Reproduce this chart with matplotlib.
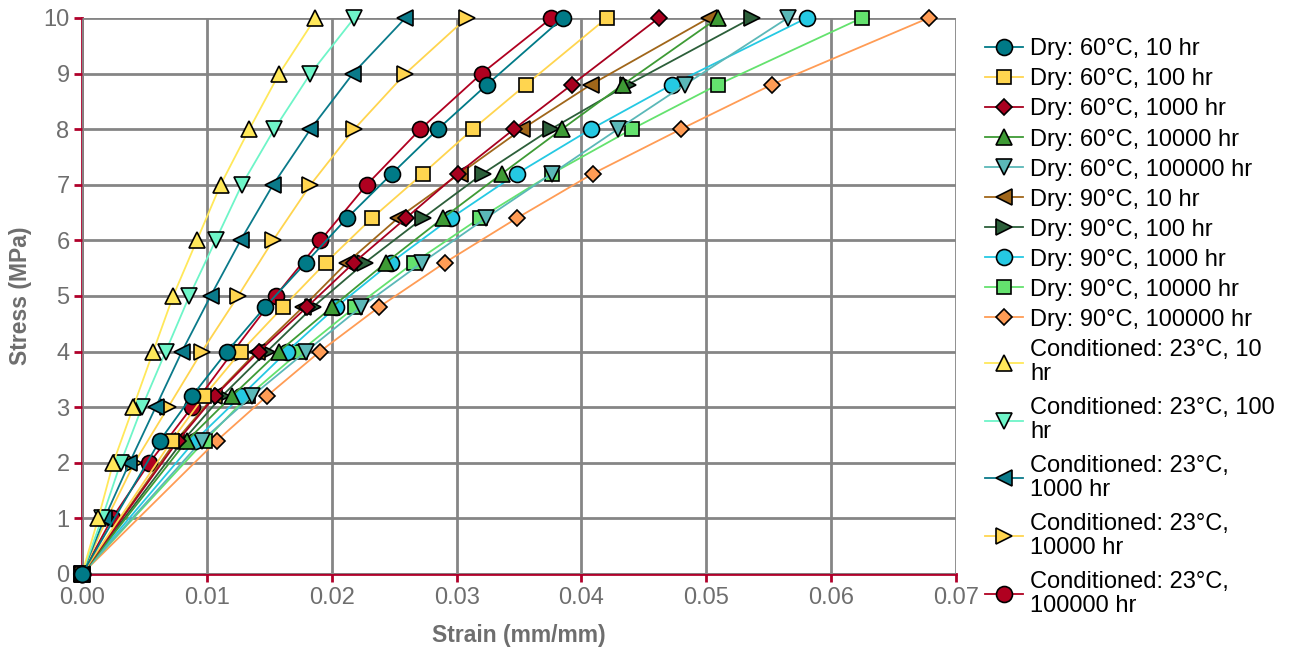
import numpy as np
import matplotlib
matplotlib.use("Agg")
from matplotlib import pyplot as plt

# stress levels (MPa)
dry_stress = [0, 2.4, 3.2, 4.0, 4.8, 5.6, 6.4, 7.2, 8.0, 8.8, 10.0]
cond_stress = [0, 1, 2, 3, 4, 5, 6, 7, 8, 9, 10]

# strain (mm/mm)
dry60_10 = [0, 0.00624, 0.00881, 0.01161, 0.01465, 0.01793, 0.02122, 0.02482, 0.0285, 0.03243, 0.03851]
dry60_100 = [0, 0.0072, 0.00977, 0.01273, 0.01609, 0.01953, 0.02322, 0.0273, 0.0313, 0.03555, 0.04203]
dry60_1000 = [0, 0.00769, 0.01065, 0.01417, 0.01801, 0.02178, 0.02594, 0.0301, 0.03459, 0.03923, 0.04619]
dry60_10000 = [0, 0.00841, 0.01201, 0.01577, 0.02002, 0.02434, 0.0289, 0.03363, 0.03843, 0.04331, 0.05092]
dry60_100000 = [0, 0.00961, 0.01361, 0.01793, 0.02234, 0.02722, 0.03234, 0.03763, 0.04291, 0.04828, 0.05652]
dry90_10 = [0, 0.00753, 0.01057, 0.01401, 0.01769, 0.02122, 0.0253, 0.03026, 0.03523, 0.04075, 0.0502]
dry90_100 = [0, 0.00809, 0.01121, 0.01481, 0.01849, 0.02266, 0.0273, 0.0321, 0.03755, 0.04371, 0.05364]
dry90_1000 = [0, 0.00905, 0.01273, 0.01641, 0.02034, 0.02474, 0.02954, 0.03483, 0.04075, 0.04724, 0.05804]
dry90_10000 = [0, 0.00985, 0.01329, 0.01745, 0.02186, 0.02658, 0.03186, 0.03763, 0.04403, 0.05092, 0.06245]
dry90_100000 = [0, 0.01081, 0.01481, 0.01905, 0.02378, 0.02906, 0.03483, 0.04091, 0.04796, 0.05524, 0.06781]
cond23_10 = [0, 0.0013, 0.0025, 0.0041, 0.0057, 0.0073, 0.0092, 0.0111, 0.0134, 0.0158, 0.0187]
cond23_100 = [0, 0.0016, 0.0031, 0.0048, 0.0067, 0.0086, 0.0107, 0.0128, 0.0154, 0.0183, 0.0218]
cond23_1000 = [0, 0.0018, 0.0038, 0.0059, 0.008, 0.0103, 0.0127, 0.0153, 0.0183, 0.0217, 0.0259]
cond23_10000 = [0, 0.002, 0.0042, 0.0069, 0.0096, 0.0125, 0.0153, 0.0183, 0.0218, 0.0259, 0.0308]
cond23_100000 = [0, 0.0024, 0.0054, 0.0088, 0.0121, 0.0155, 0.0191, 0.0228, 0.0271, 0.032, 0.0376]

labels = ["Dry: 60°C, 10 hr", "Dry: 60°C, 100 hr", "Dry: 60°C, 1000 hr",
          "Dry: 60°C, 10000 hr", "Dry: 60°C, 100000 hr", "Dry: 90°C, 10 hr",
          "Dry: 90°C, 100 hr", "Dry: 90°C, 1000 hr", "Dry: 90°C, 10000 hr",
          "Dry: 90°C, 100000 hr", "Conditioned: 23°C, 10\nhr",
          "Conditioned: 23°C, 100\nhr", "Conditioned: 23°C,\n1000 hr",
          "Conditioned: 23°C,\n10000 hr", "Conditioned: 23°C,\n100000 hr"]

strains = [dry60_10, dry60_100, dry60_1000, dry60_10000, dry60_100000,
           dry90_10, dry90_100, dry90_1000, dry90_10000, dry90_100000,
           cond23_10, cond23_100, cond23_1000, cond23_10000, cond23_100000]
stresses = [dry_stress] * 10 + [cond_stress] * 5

colors = ["#007A87", "#FFD54F", "#A8001F", "#3E9B35", "#5BB8B8",
          "#A0661A", "#2C5F3A", "#25C9E3", "#64E26E", "#FF9C55",
          "#FFE85A", "#6EF5C8", "#0A7A8A", "#FFD54F", "#B00020"]
markers = ["o", "s", "D", "^", "v", "<", ">", "o", "s", "D", "^", "v", "<", ">", "o"]
msizes = {"o": 11.5, "s": 10.5, "D": 8.5, "^": 11, "v": 11, "<": 11, ">": 11}

plt.rcParams['font.family'] = ['Liberation Sans', 'DejaVu Sans']
grey = "#6e6e6e"
red = "#B0002A"

fig = plt.figure(figsize=(12.9, 6.49), dpi=100)
ax = fig.add_axes([82 / 1290, 75 / 649, 874 / 1290, 556 / 649])

handles = []
for i in range(len(labels)):
    m = markers[i]
    h, = ax.plot(strains[i], stresses[i], color=colors[i], lw=1.3, marker=m,
                 markersize=msizes[m], markerfacecolor=colors[i],
                 markeredgecolor="black", markeredgewidth=1.2,
                 label=labels[i], zorder=100 - i, clip_on=False)
    handles.append(h)

ax.set_xlim(0, 0.07)
ax.set_ylim(0, 10)
ax.set_xticks(np.arange(0, 0.071, 0.01))
ax.set_xticklabels([f"{v:.2f}" for v in np.arange(0, 0.071, 0.01)])
ax.set_yticks(range(0, 11))

ax.grid(True, color="#858585", lw=2)
ax.set_axisbelow(True)
for s in ["top", "right"]:
    ax.spines[s].set_visible(False)
for s in ["left", "bottom"]:
    ax.spines[s].set_color(red)
    ax.spines[s].set_linewidth(2)
    ax.spines[s].set_zorder(0.5)
ax.tick_params(axis="both", colors=red, width=2, length=6, labelsize=17,
               labelcolor=grey, pad=3)

ax.set_xlabel("Strain (mm/mm)", fontsize=16.5, fontweight="bold", color=grey, labelpad=11)
ax.set_ylabel("Stress (MPa)", fontsize=16.5, fontweight="bold", color=grey, labelpad=8)

# legend in two blocks: single-line dry entries, then wrapped conditioned ones
leg_kw = dict(loc="upper left", frameon=False, fontsize=17, handlelength=1.6,
              handletextpad=0.3, borderaxespad=0)
leg1 = fig.legend(handles[:10], labels[:10], labelspacing=0.34,
                  bbox_to_anchor=(976 / 1290, 1 - 29 / 649), **leg_kw)
leg2 = fig.legend(handles[10:], labels[10:], labelspacing=0.5,
                  bbox_to_anchor=(976 / 1290, 1 - 330 / 649), **leg_kw)
for t in leg2.get_texts():
    t.set_linespacing(1.12)

fig.savefig("out.png", dpi=100)
